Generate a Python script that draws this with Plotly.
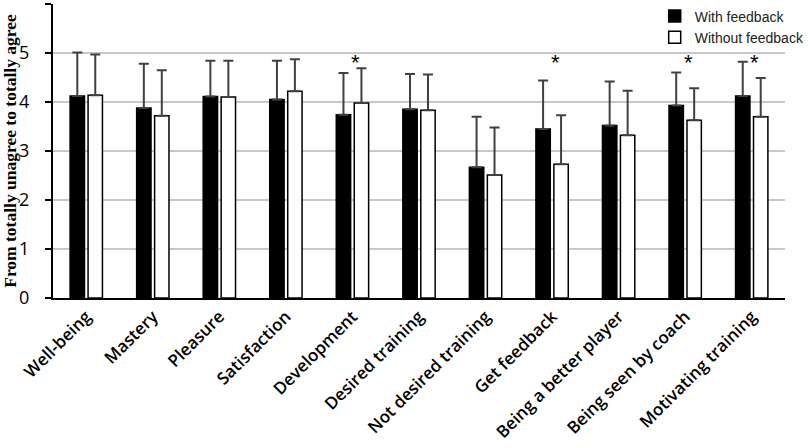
import plotly.graph_objects as go

categories = ["Well-being", "Mastery", "Pleasure", "Satisfaction", "Development",
              "Desired training", "Not desired training", "Get feedback",
              "Being a better player", "Being seen by coach", "Motivating training"]
with_feedback = [4.12, 3.88, 4.11, 4.05, 3.74, 3.85, 2.67, 3.45, 3.52, 3.93, 4.12]
with_sd = [0.89, 0.90, 0.73, 0.79, 0.85, 0.72, 1.03, 0.99, 0.90, 0.67, 0.70]
without_feedback = [4.14, 3.72, 4.10, 4.22, 3.98, 3.83, 2.51, 2.73, 3.32, 3.63, 3.70]
without_sd = [0.83, 0.93, 0.74, 0.65, 0.71, 0.73, 0.97, 1.00, 0.91, 0.65, 0.79]
significant = [False, False, False, False, True, False, False, True, False, True, True]
y_ticks = [0, 1, 2, 3, 4, 5, 6]
y_tick_labels = ["0", "1", "2", "3", "4", "5", ""]

fig = go.Figure()
fig.add_trace(go.Bar(
    x=categories, y=with_feedback, name="With feedback",
    marker=dict(color="black", line=dict(color="black", width=1.5)),
    error_y=dict(type="data", symmetric=False, array=with_sd, arrayminus=[0]*len(with_sd),
                 color="#404040", thickness=2, width=5),
))
fig.add_trace(go.Bar(
    x=categories, y=without_feedback, name="Without feedback",
    marker=dict(color="white", line=dict(color="black", width=1.5)),
    error_y=dict(type="data", symmetric=False, array=without_sd, arrayminus=[0]*len(without_sd),
                 color="#404040", thickness=2, width=5),
))

for i, cat in enumerate(categories):
    if significant[i]:
        fig.add_annotation(x=cat, y=4.8, text="*", showarrow=False,
                           xshift=3, yanchor="middle",
                           font=dict(size=22, color="black", family="Liberation Sans"))

fig.update_layout(
    width=810, height=448,
    margin=dict(l=53, r=25, t=4, b=150, autoexpand=False),
    paper_bgcolor="white", plot_bgcolor="white",
    barmode="group", bargap=0.46, bargroupgap=0.2,
    showlegend=True,
    legend=dict(x=0.822, y=1.012, xanchor="left", yanchor="top",
                font=dict(family="Liberation Sans", size=14, color="#222"),
                bgcolor="rgba(0,0,0,0)", tracegroupgap=0, itemwidth=30),
    font=dict(family="Open Sans", color="black"),
)
fig.update_xaxes(
    tickangle=-45, showline=True, linecolor="black", linewidth=2,
    ticks="", showgrid=False, automargin=False,
    tickfont=dict(family="Open Sans", size=17, color="black", weight=600),
)
fig.update_yaxes(
    range=[0, 6], tickvals=y_ticks, ticktext=y_tick_labels,
    showline=True, linecolor="black", linewidth=2, automargin=False,
    ticks="outside", ticklen=6, tickcolor="black", tickwidth=2,
    ticklabelstandoff=12,
    showgrid=True, gridcolor="#c8c8c8", gridwidth=1.5,
    tickfont=dict(family="Open Sans", size=18, color="black"),
    title=dict(text="From totally unagree to totally agree", standoff=2,
               font=dict(family="Liberation Serif", size=17.5, color="black", weight="bold")),
    zeroline=False,
)
fig.write_html("out.html", config={"displayModeBar": False},
               post_script="document.body.style.margin='0';document.body.style.overflow='hidden';")
